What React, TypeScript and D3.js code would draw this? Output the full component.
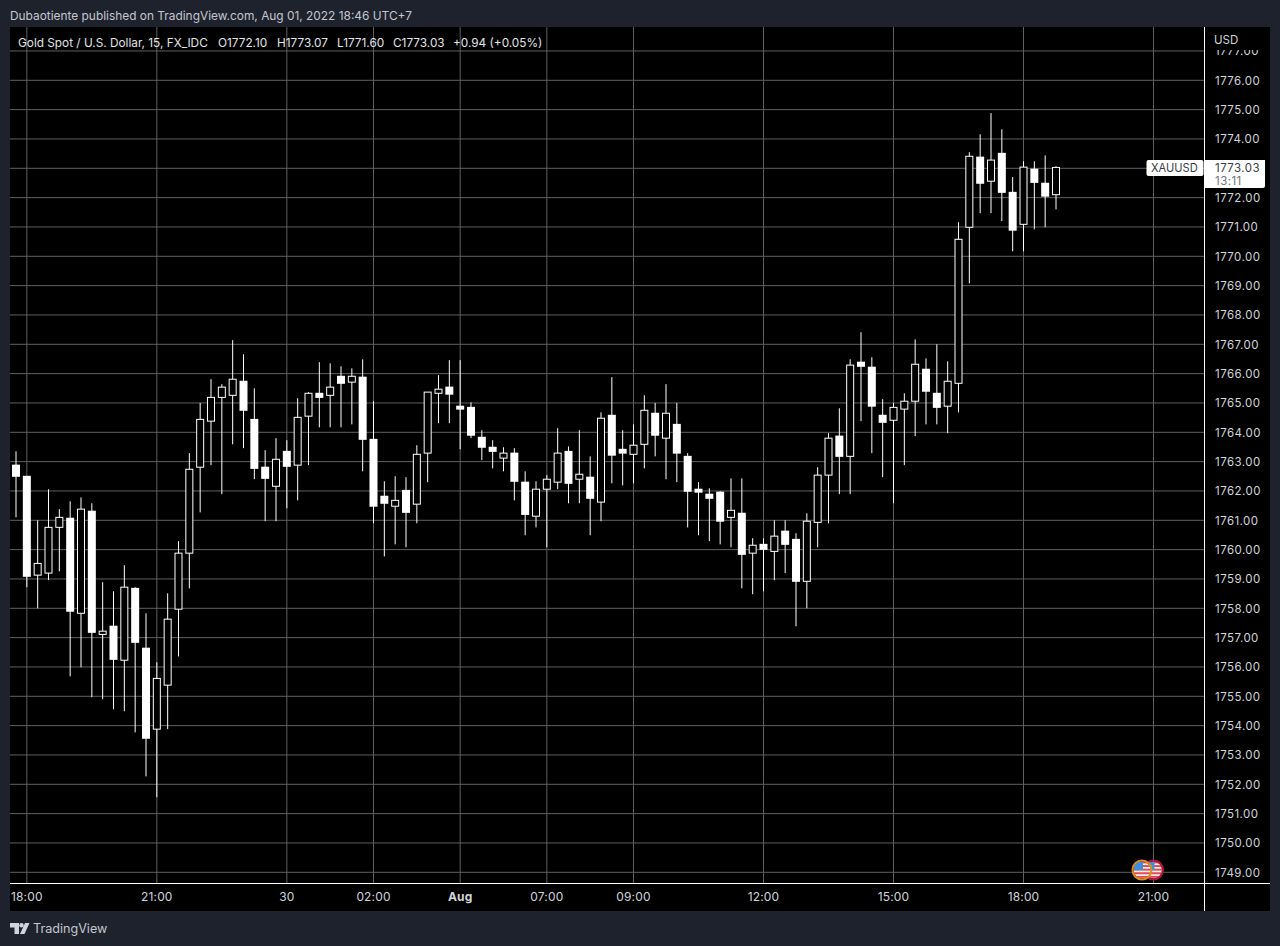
import React from "react";
import * as d3 from "d3";

const opens = [1762.88,1762.5,1759.13,1759.2,1760.76,1761.07,1757.83,1761.31,1757.11,1757.39,1756.23,1758.68,1756.64,1753.88,1755.38,1757.97,1759.88,1762.81,1764.38,1765.19,1765.26,1765.74,1764.44,1762.81,1762.16,1763.35,1762.88,1764.55,1765.33,1765.26,1765.91,1765.71,1765.88,1763.76,1761.82,1761.48,1762.02,1761.55,1763.29,1765.33,1765.54,1764.89,1764.85,1763.83,1763.49,1763.12,1763.29,1762.3,1761.14,1762.06,1762.3,1763.35,1762.4,1762.47,1761.62,1764.58,1763.42,1763.25,1763.59,1764.65,1763.8,1764.27,1763.18,1762.06,1761.89,1761.96,1761.1,1761.24,1759.88,1760.18,1759.94,1760.63,1760.35,1758.92,1760.93,1762.54,1763.87,1763.18,1766.39,1766.22,1764.58,1764.41,1764.79,1765.06,1766.15,1765.33,1764.89,1765.67,1770.99,1773.38,1772.56,1773.51,1772.18,1771.09,1772.97,1772.49,1772.10];
const highs = [1763.35,1762.5,1761.0,1762.06,1761.38,1761.65,1761.78,1761.58,1758.89,1758.58,1759.47,1758.72,1757.83,1756.16,1758.51,1760.29,1763.29,1765.0,1765.81,1765.64,1767.14,1766.66,1765.5,1763.39,1763.8,1763.73,1765.16,1765.37,1766.39,1766.35,1766.25,1766.18,1766.49,1765.06,1762.33,1762.5,1762.47,1763.56,1765.37,1765.95,1766.46,1766.46,1765.02,1764.07,1763.73,1763.49,1763.46,1762.67,1762.33,1762.54,1764.14,1763.52,1764.07,1763.18,1764.68,1765.88,1764.07,1764.27,1765.26,1765.0,1765.64,1765.0,1763.29,1762.3,1762.09,1761.99,1762.43,1762.43,1760.39,1760.39,1761.0,1761.0,1760.56,1761.24,1762.81,1763.97,1764.82,1766.49,1767.41,1766.56,1765.13,1765.0,1765.33,1767.17,1766.52,1767.0,1766.42,1771.16,1773.55,1774.16,1774.88,1774.33,1772.7,1773.24,1773.24,1773.44,1773.07];
const lows = [1761.1,1758.72,1758.0,1758.96,1759.26,1755.68,1755.99,1754.97,1754.9,1754.56,1754.49,1753.77,1752.27,1751.56,1753.88,1756.36,1758.68,1761.27,1762.88,1761.89,1763.59,1763.46,1762.4,1760.97,1760.97,1761.41,1761.68,1762.88,1764.17,1764.17,1764.17,1764.27,1762.67,1760.9,1759.77,1760.18,1760.08,1760.9,1762.3,1764.31,1764.31,1763.42,1763.8,1763.05,1762.77,1762.67,1761.68,1760.49,1760.76,1760.08,1762.06,1761.58,1761.58,1760.49,1760.97,1762.26,1762.19,1762.26,1762.77,1763.18,1762.4,1762.3,1760.76,1760.49,1760.29,1760.18,1760.08,1758.68,1758.48,1758.58,1758.96,1759.2,1757.39,1758.0,1760.08,1760.9,1761.89,1761.89,1764.38,1763.29,1762.47,1761.58,1762.88,1763.87,1764.27,1764.27,1763.97,1764.68,1769.08,1771.47,1771.47,1771.2,1770.17,1770.17,1770.92,1770.99,1771.60];
const closes = [1762.5,1759.09,1759.53,1760.76,1761.1,1757.9,1761.38,1757.18,1757.22,1756.26,1758.72,1756.84,1753.57,1755.61,1757.63,1759.88,1762.74,1764.44,1765.19,1765.54,1765.81,1764.75,1762.77,1762.43,1763.08,1762.84,1764.51,1765.33,1765.19,1765.54,1765.67,1765.91,1763.76,1761.48,1761.58,1761.68,1761.27,1763.25,1765.37,1765.47,1765.3,1764.79,1763.9,1763.49,1763.35,1763.29,1762.33,1761.2,1762.06,1762.4,1763.29,1762.26,1762.57,1761.75,1764.48,1763.22,1763.29,1763.56,1764.75,1763.9,1764.65,1763.29,1761.99,1761.96,1761.75,1760.97,1761.34,1759.84,1760.15,1760.01,1760.46,1760.18,1758.92,1760.97,1762.54,1763.8,1763.18,1766.29,1766.25,1764.89,1764.34,1764.85,1765.06,1766.32,1765.4,1764.85,1765.74,1770.58,1773.41,1772.49,1773.28,1772.18,1770.89,1773.04,1772.52,1772.05,1773.03];

const priceTicks = d3.range(1749, 1778);
const timeTickBars = [1, 13, 25, 33, 41, 49, 57, 69, 81, 93, 105];
const timeTickLabels = ["18:00", "21:00", "30", "02:00", "Aug", "07:00", "09:00", "12:00", "15:00", "18:00", "21:00"];
const legendParts = [
  ["Gold Spot / U.S. Dollar, 15, FX_IDC", 18],
  ["O1772.10", 218],
  ["H1773.07", 277],
  ["L1771.60", 337],
  ["C1773.03", 393],
  ["+0.94 (+0.05%)", 453],
] as const;

const W = 1280, H = 946;
const FONT = "Inter, 'Noto Sans', sans-serif";
const y = d3.scaleLinear().domain([1749, 1776]).range([872.3, 80.3]);
const x = d3.scaleLinear().domain([0, 96]).range([16, 1056]);
const BODY = 7;

function Flag({ cx, cy, ring, id }: { cx: number; cy: number; ring: string; id: string }) {
  const r = 8.5;
  const stripes = d3.range(5);
  return (
    <g>
      <clipPath id={id}><circle cx={cx} cy={cy} r={r} /></clipPath>
      <g clipPath={`url(#${id})`}>
        <rect x={cx - r} y={cy - r} width={2 * r} height={2 * r} fill="#f2f2f2" />
        {stripes.map((s) => (
          <rect key={s} x={cx - r} y={cy - r + s * 3.6} width={2 * r} height={1.9} fill="#e0484c" />
        ))}
        <rect x={cx - r} y={cy - r} width={r + 1} height={r} fill="#3f8fe0" />
      </g>
      <circle cx={cx} cy={cy} r={r + 1} fill="none" stroke={ring} strokeWidth={2} />
    </g>
  );
}

export default function App() {
  const textColor = "#d1d4dc";
  return (
    <svg width={W} height={H} style={{ position: "absolute", left: 0, top: 0, display: "block" }} fontFamily={FONT}>
      <rect width={W} height={H} fill="#1e222d" />
      <text x={10} y={19.5} fontSize={11.9} fill="#c4c7cf">Dubaotiente published on TradingView.com, Aug 01, 2022 18:46 UTC+7</text>
      <rect x={10} y={27} width={1260} height={884} fill="#000" />

      <clipPath id="plot"><rect x={10} y={27} width={1194} height={856} /></clipPath>
      <clipPath id="axisClip"><rect x={1205} y={50} width={65} height={833} /></clipPath>

      <g clipPath="url(#plot)">
        {priceTicks.map((p) => (
          <line key={p} x1={10} x2={1204} y1={y(p)} y2={y(p)} stroke="#606060" strokeWidth={1} />
        ))}
        {timeTickBars.map((b) => (
          <line key={b} x1={x(b)} x2={x(b)} y1={27} y2={883} stroke="#606060" strokeWidth={1} />
        ))}
      </g>

      <g clipPath="url(#plot)">
        {opens.map((o, i) => {
          const c = closes[i];
          const up = c >= o;
          const top = y(Math.max(o, c));
          const bot = y(Math.min(o, c));
          const cx = x(i);
          return (
            <g key={i}>
              <line x1={cx} x2={cx} y1={y(highs[i])} y2={y(lows[i])} stroke="#fff" strokeWidth={1} />
              {up ? (
                <rect x={cx - BODY / 2} y={top} width={BODY} height={Math.max(bot - top, 1)} fill="#000" stroke="#fff" strokeWidth={1} />
              ) : (
                <rect x={cx - BODY / 2 - 0.5} y={top - 0.5} width={BODY + 1} height={Math.max(bot - top, 1) + 1} fill="#fff" />
              )}
            </g>
          );
        })}
      </g>

      {legendParts.map(([t, lx]) => (
        <text key={lx} x={lx} y={46.5} fontSize={11.8} fill="#e0e3ea">{t}</text>
      ))}

      <g clipPath="url(#axisClip)">
        {priceTicks.map((p) => (
          <text key={p} x={1215} y={y(p) + 4.2} fontSize={11.5} letterSpacing={0.45} fill={textColor}>{p.toFixed(2)}</text>
        ))}
      </g>
      <text x={1214} y={43.5} fontSize={11.5} fill={textColor}>USD</text>

      <Flag cx={1153.5} cy={870} ring="#b5123f" id="flagB" />
      <Flag cx={1142} cy={870} ring="#e08a1e" id="flagA" />

      <line x1={10} x2={1270} y1={883.5} y2={883.5} stroke="#fff" strokeWidth={1} />
      <line x1={1204.5} x2={1204.5} y1={27} y2={911} stroke="#fff" strokeWidth={1} />

      {timeTickBars.map((b, i) => (
        <text key={b} x={x(b)} y={901.3} textAnchor="middle" fontSize={12} letterSpacing={0.15} fill={textColor}
          fontWeight={timeTickLabels[i] === "Aug" ? 700 : 400}>{timeTickLabels[i]}</text>
      ))}

      <rect x={1146.5} y={160} width={57} height={16} rx={2} fill="#fff" />
      <text x={1151} y={172} fontSize={11.1} fill="#3a3d45">XAUUSD</text>
      <path d="M1205,160 H1265 V186 a2,2 0 0 1 -2,2 H1205 Z" fill="#fff" />
      <text x={1215} y={172} fontSize={11.5} letterSpacing={0.45} fill="#3a3d45">1773.03</text>
      <text x={1215} y={184.5} fontSize={11.5} letterSpacing={0.45} fill="#6f727a">13:11</text>

      <g fill="#d1d4dc">
        <path d="M10 923 H19 V934 H14.5 V927.5 H10 Z" />
        <circle cx={21.5} cy={925.2} r={2.2} />
        <path d="M25 923 H29.5 L24.5 934 H20 Z" />
      </g>
      <text x={33} y={933} fontSize={12.6} fill="#c4c7cf">TradingView</text>
    </svg>
  );
}
